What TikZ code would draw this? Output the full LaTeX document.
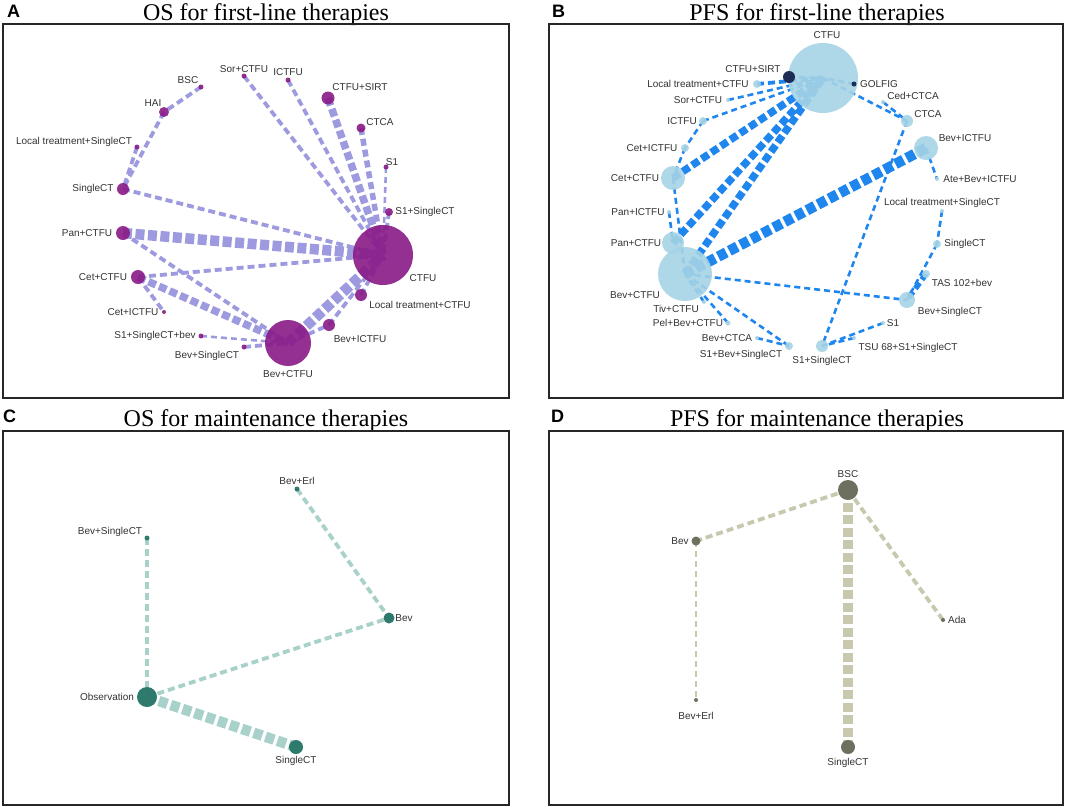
\documentclass[tikz,border=0pt]{standalone}
\usepackage{fontspec}
\setmainfont{Liberation Serif}
\setsansfont{Liberation Sans}
\pgfdeclarelayer{edges}
\pgfsetlayers{edges,main}

\definecolor{purpA}{HTML}{8A1A88}
\definecolor{lavA}{HTML}{9E9AE0}
\definecolor{skyB}{HTML}{A6D3E6}
\definecolor{blueB}{HTML}{1F86EE}
\definecolor{navyB}{HTML}{1E2D55}
\definecolor{tealC}{HTML}{2E7B6E}
\definecolor{mintC}{HTML}{A7D1C9}
\definecolor{oliveD}{HTML}{6D705F}
\definecolor{sandD}{HTML}{C8C8AE}

\begin{document}
\begin{tikzpicture}[x=1pt,y=-1pt,
  lab/.style={font=\sffamily\fontsize{10}{12}\selectfont,text=black!80,inner sep=0pt},
  ttl/.style={font=\fontsize{24}{28}\selectfont,anchor=base,inner sep=0pt},
  tag/.style={font=\sffamily\bfseries\fontsize{18}{20}\selectfont,anchor=base west,inner sep=0pt},
  frame/.style={draw=black!85,line width=1.6pt},
  disc/.style={circle,inner sep=0pt,minimum size=#1},
  na/.style={disc=#1,fill=purpA,fill opacity=.9},
  nb/.style={disc=#1,fill=skyB,fill opacity=.9},
  nbd/.style={disc=#1,fill=navyB},
  nc/.style={disc=#1,fill=tealC},
  nd/.style={disc=#1,fill=oliveD},
  ea/.style={draw=lavA},
  eb/.style={draw=blueB},
  ec/.style={draw=mintC},
  ed/.style={draw=sandD},
  w1/.style={line width=2.6pt,dash pattern=on 6pt off 4pt},
  w2/.style={line width=3.8pt,dash pattern=on 7pt off 4pt},
  w3/.style={line width=5.5pt,dash pattern=on 7pt off 4pt},
  w4/.style={line width=7.5pt,dash pattern=on 8pt off 3.5pt},
  w5/.style={line width=10.5pt,dash pattern=on 9pt off 3.5pt}]

  \begin{pgfonlayer}{edges}
    \fill[white] (0,0) rectangle (1065,807);
  \end{pgfonlayer}
  \useasboundingbox (0,0) rectangle (1065,807);

  % ---- A: OS for first-line therapies
  \node[tag] (tagA) at (7,17) {A};
  \node[ttl] (ttlA) at (266,20) {OS for first-line therapies};
  \draw[frame] (3,24) rectangle (509,398);

  \node[na=60] (actfu)     at (383,255) {};
  \node[na=46] (abevctfu)  at (288,343) {};
  \node[na=13] (asirt)     at (328,98)  {};
  \node[na=9]  (actca)     at (361,128) {};
  \node[na=5]  (as1)       at (386,167) {};
  \node[na=8]  (as1sct)    at (389,212) {};
  \node[na=5]  (asor)      at (244,76)  {};
  \node[na=5]  (aictfu)    at (288,80)  {};
  \node[na=5]  (absc)      at (201,87)  {};
  \node[na=10] (ahai)      at (164,112) {};
  \node[na=5]  (altsct)    at (137,147) {};
  \node[na=12] (asct)      at (123,189) {};
  \node[na=14] (apan)      at (123,233) {};
  \node[na=14] (acet)      at (138,277) {};
  \node[na=4]  (acetictfu) at (164,312) {};
  \node[na=12] (altctfu)   at (361,295) {};
  \node[na=12] (abevictfu) at (329,325) {};
  \node[na=5]  (as1sctbev) at (201,336) {};
  \node[na=5]  (abevsct)   at (244,347) {};

  \node[lab] (l-actfu)     at (423,278) {CTFU};
  \node[lab] (l-abevctfu)  at (288,374) {Bev+CTFU};
  \node[lab] (l-asirt)     at (360,87)  {CTFU+SIRT};
  \node[lab] (l-actca)     at (380,122) {CTCA};
  \node[lab] (l-as1)       at (392,162) {S1};
  \node[lab] (l-as1sct)    at (425,212) {S1+SingleCT};
  \node[lab] (l-asor)      at (244,69)  {Sor+CTFU};
  \node[lab] (l-aictfu)    at (288,72)  {ICTFU};
  \node[lab] (l-absc)      at (188,80)  {BSC};
  \node[lab] (l-ahai)      at (153,103) {HAI};
  \node[lab] (l-altsct)    at (74,142)  {Local treatment+SingleCT};
  \node[lab] (l-asct)      at (93,189)  {SingleCT};
  \node[lab] (l-apan)      at (87,233)  {Pan+CTFU};
  \node[lab] (l-acet)      at (103,277) {Cet+CTFU};
  \node[lab] (l-acetictfu) at (133,312) {Cet+ICTFU};
  \node[lab] (l-altctfu)   at (420,305) {Local treatment+CTFU};
  \node[lab] (l-abevictfu) at (360,339) {Bev+ICTFU};
  \node[lab] (l-as1sctbev) at (155,336) {S1+SingleCT+bev};
  \node[lab] (l-abevsct)   at (207,356) {Bev+SingleCT};

  \begin{pgfonlayer}{edges}
    \path[ea] (absc.center) edge[w2] (ahai.center)
              (ahai.center) edge[w2] (asct.center)
              (altsct.center) edge[w2] (asct.center)
              (asct.center) edge[w2] (actfu.center)
              (asor.center) edge[w2] (actfu.center)
              (aictfu.center) edge[w2] (actfu.center)
              (asirt.center) edge[w4] (actfu.center)
              (actca.center) edge[w3] (actfu.center)
              (as1.center) edge[w1] (actfu.center)
              (as1sct.center) edge[w2] (actfu.center)
              (apan.center) edge[w5] (actfu.center)
              (acet.center) edge[w2] (actfu.center)
              (apan.center) edge[w2] (abevctfu.center)
              (acet.center) edge[w4] (abevctfu.center)
              (acet.center) edge[w2] (acetictfu.center)
              (as1sctbev.center) edge[w1] (abevctfu.center)
              (abevsct.center) edge[w2] (abevctfu.center)
              (abevctfu.center) edge[w5] (actfu.center)
              (abevictfu.center) edge[w2] (actfu.center)
              (altctfu.center) edge[w2] (actfu.center)
              (abevctfu.center) edge[w2] (abevictfu.center);
  \end{pgfonlayer}

  % ---- B: PFS for first-line therapies
  \node[tag] (tagB) at (552,17) {B};
  \node[ttl] (ttlB) at (817,20) {PFS for first-line therapies};
  \draw[frame] (549,24) rectangle (1063,398);

  \node[nb=70]  (bctfu)     at (823,78)  {};
  \node[nbd=12] (bsirt)     at (789,77)  {};
  \node[nbd=5]  (bgolfig)   at (854,84)  {};
  \node[nb=8]   (bltctfu)   at (757,84)  {};
  \node[nb=4]   (bsor)      at (728,100) {};
  \node[nb=8]   (bictfu)    at (703,121) {};
  \node[nb=8]   (bcetictfu) at (685,148) {};
  \node[nb=24]  (bcet)      at (673,178) {};
  \node[nb=4]   (bpanictfu) at (669,212) {};
  \node[nb=22]  (bpan)      at (673,243) {};
  \node[nb=54]  (bbevctfu)  at (685,274) {};
  \node[nb=4]   (btiv)      at (704,302) {};
  \node[nb=5]   (bpel)      at (728,323) {};
  \node[nb=4]   (bbevctca)  at (757,338) {};
  \node[nb=8]   (bs1bevsct) at (789,346) {};
  \node[nb=12]  (bs1sct)    at (822,346) {};
  \node[nb=4]   (btsu)      at (854,338) {};
  \node[nb=4]   (bs1)       at (883,323) {};
  \node[nb=4]   (bcedctca)  at (883,102) {};
  \node[nb=12]  (bctca)     at (907,121) {};
  \node[nb=24]  (bbevictfu) at (926,148) {};
  \node[nb=4]   (bate)      at (937,179) {};
  \node[nb=4]   (bltsct)    at (942,211) {};
  \node[nb=8]   (bsct)      at (937,244) {};
  \node[nb=8]   (btas)      at (926,274) {};
  \node[nb=16]  (bbevsct)   at (907,300) {};

  \node[lab] (l-bctfu)     at (827,35)  {CTFU};
  \node[lab] (l-bsirt)     at (753,69)  {CTFU+SIRT};
  \node[lab] (l-bgolfig)   at (879,84)  {GOLFIG};
  \node[lab] (l-bltctfu)   at (698,84)  {Local treatment+CTFU};
  \node[lab] (l-bsor)      at (698,100) {Sor+CTFU};
  \node[lab] (l-bictfu)    at (682,121) {ICTFU};
  \node[lab] (l-bcetictfu) at (652,148) {Cet+ICTFU};
  \node[lab] (l-bcet)      at (635,178) {Cet+CTFU};
  \node[lab] (l-bpanictfu) at (638,212) {Pan+ICTFU};
  \node[lab] (l-bpan)      at (636,243) {Pan+CTFU};
  \node[lab] (l-bbevctfu)  at (635,295) {Bev+CTFU};
  \node[lab] (l-btiv)      at (676,309) {Tiv+CTFU};
  \node[lab] (l-bpel)      at (688,323) {Pel+Bev+CTFU};
  \node[lab] (l-bbevctca)  at (727,338) {Bev+CTCA};
  \node[lab] (l-bs1bevsct) at (741,355) {S1+Bev+SingleCT};
  \node[lab] (l-bs1sct)    at (822,361) {S1+SingleCT};
  \node[lab] (l-btsu)      at (908,348) {TSU 68+S1+SingleCT};
  \node[lab] (l-bs1)       at (893,323) {S1};
  \node[lab] (l-bcedctca)  at (913,96)  {Ced+CTCA};
  \node[lab] (l-bctca)     at (928,114) {CTCA};
  \node[lab] (l-bbevictfu) at (965,138) {Bev+ICTFU};
  \node[lab] (l-bate)      at (980,179) {Ate+Bev+ICTFU};
  \node[lab] (l-bltsct)    at (942,203) {Local treatment+SingleCT};
  \node[lab] (l-bsct)      at (965,244) {SingleCT};
  \node[lab] (l-btas)      at (962,283) {TAS 102+bev};
  \node[lab] (l-bbevsct)   at (950,312) {Bev+SingleCT};

  \begin{pgfonlayer}{edges}
    \path[eb] (bltctfu.center) edge[w2] (bctfu.center)
              (bsor.center) edge[w1] (bctfu.center)
              (bictfu.center) edge[w1] (bctfu.center)
              (bsirt.center) edge[w1] (bctfu.center)
              (bgolfig.center) edge[w1] (bctfu.center)
              (bcet.center) edge[w4] (bctfu.center)
              (bpan.center) edge[w4] (bctfu.center)
              (bbevctfu.center) edge[w4] (bctfu.center)
              (bctfu.center) edge[w1] (bctca.center)
              (bcedctca.center) edge[w1] (bctca.center)
              (bctca.center) edge[w1] (bs1sct.center)
              (bbevctfu.center) edge[w5] (bbevictfu.center)
              (bbevictfu.center) edge[w1] (bate.center)
              (bltsct.center) edge[w1] (bsct.center)
              (bsct.center) edge[w1] (bbevsct.center)
              (btas.center) edge[w3] (bbevsct.center)
              (bbevctfu.center) edge[w1] (bbevsct.center)
              (bs1.center) edge[w1] (bs1sct.center)
              (btsu.center) edge[w1] (bs1sct.center)
              (bbevctfu.center) edge[w1] (bs1bevsct.center)
              (bbevctca.center) edge[w1] (bs1bevsct.center)
              (bpel.center) edge[w1] (bbevctfu.center)
              (btiv.center) edge[w1] (bbevctfu.center)
              (bpanictfu.center) edge[w1] (bpan.center)
              (bcet.center) edge[w1] (bbevctfu.center)
              (bictfu.center) edge[w1] (bcetictfu.center)
              (bcetictfu.center) edge[w1] (bcet.center);
  \end{pgfonlayer}

  % ---- C: OS for maintenance therapies
  \node[tag] (tagC) at (3,422) {C};
  \node[ttl] (ttlC) at (266,426) {OS for maintenance therapies};
  \draw[frame] (3,431) rectangle (509,805);

  \node[nc=20] (cobs)    at (147,697) {};
  \node[nc=5]  (cbevsct) at (147,538) {};
  \node[nc=5]  (cbeverl) at (297,489) {};
  \node[nc=11] (cbev)    at (389,618) {};
  \node[nc=14] (csct)    at (296,747) {};

  \node[lab] (l-cobs)    at (107,697) {Observation};
  \node[lab] (l-cbevsct) at (110,532) {Bev+SingleCT};
  \node[lab] (l-cbeverl) at (297,481) {Bev+Erl};
  \node[lab] (l-cbev)    at (404,618) {Bev};
  \node[lab] (l-csct)    at (296,761) {SingleCT};

  \begin{pgfonlayer}{edges}
    \path[ec] (cbevsct.center) edge[w2] (cobs.center)
              (cbeverl.center) edge[w2] (cbev.center)
              (cobs.center) edge[w2] (cbev.center)
              (cobs.center) edge[w5] (csct.center);
  \end{pgfonlayer}

  % ---- D: PFS for maintenance therapies
  \node[tag] (tagD) at (551,422) {D};
  \node[ttl] (ttlD) at (817,426) {PFS for maintenance therapies};
  \draw[frame] (549,431) rectangle (1063,805);

  \node[nd=20] (dbsc)    at (848,490) {};
  \node[nd=9]  (dbev)    at (696,541) {};
  \node[nd=4]  (dbeverl) at (696,700) {};
  \node[nd=14] (dsct)    at (848,747) {};
  \node[nd=4]  (dada)    at (943,620) {};

  \node[lab] (l-dbsc)    at (848,474) {BSC};
  \node[lab] (l-dbev)    at (680,541) {Bev};
  \node[lab] (l-dbeverl) at (696,716) {Bev+Erl};
  \node[lab] (l-dsct)    at (848,763) {SingleCT};
  \node[lab] (l-dada)    at (957,620) {Ada};

  \begin{pgfonlayer}{edges}
    \path[ed] (dbsc.center) edge[w2] (dbev.center)
              (dbev.center) edge[w1] (dbeverl.center)
              (dbsc.center) edge[w5] (dsct.center)
              (dbsc.center) edge[w2] (dada.center);
  \end{pgfonlayer}
\end{tikzpicture}
\end{document}
